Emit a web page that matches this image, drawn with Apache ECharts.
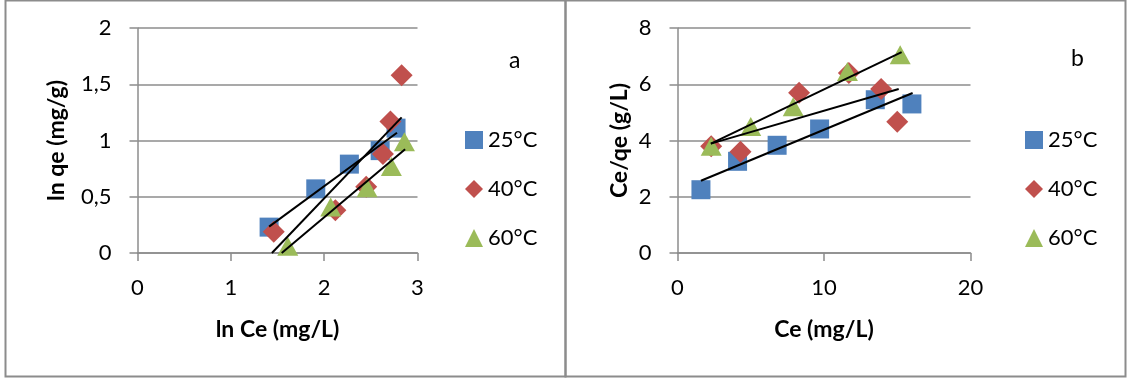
<!DOCTYPE html>
<html><head><meta charset="utf-8">
<script src="https://cdn.jsdelivr.net/npm/echarts@6/dist/echarts.min.js"></script>
<style>html,body{margin:0;padding:0;background:#fff}#c{width:1129px;height:383px}</style>
</head><body><div id="c"></div>
<script>
// ---- Data ----
const seriesNames = ['25°C', '40°C', '60°C'];
// Panel a: ln qe vs ln Ce
const a25 = [[1.41,0.23],[1.91,0.57],[2.27,0.79],[2.60,0.91],[2.77,1.11]];
const a40 = [[1.46,0.19],[2.12,0.38],[2.45,0.59],[2.63,0.88],[2.71,1.17],[2.83,1.58]];
const a60 = [[1.61,0.06],[2.07,0.41],[2.46,0.58],[2.72,0.77],[2.86,0.99]];
const aTrend25 = [[1.41,0.234],[2.78,1.069]];
const aTrend40 = [[1.44,0.0],[2.83,1.206]];
const aTrend60 = [[1.545,0.0],[2.867,0.922]];
// Panel b: Ce/qe vs Ce
const b25 = [[1.6,2.25],[4.1,3.26],[6.8,3.83],[9.7,4.41],[13.5,5.45],[16.0,5.30]];
const b40 = [[2.3,3.8],[4.3,3.6],[8.3,5.7],[11.7,6.4],[13.9,5.83],[15.0,4.67]];
const b60 = [[2.3,3.8],[5.0,4.5],[7.9,5.2],[11.6,6.45],[15.2,7.05]];
const bTrend25 = [[1.6,2.57],[16.05,5.69]];
const bTrend40 = [[2.28,3.89],[15.1,5.83]];
const bTrend60 = [[2.28,3.89],[15.3,7.14]];

const colors = ['#4F81BD', '#C0504D', '#9BBB59'];
const symbols = ['rect', 'diamond', 'triangle'];
const symbolSizes = [19, 22, [21, 19]];
const FONT = 'Lato';
const gridColor = '#8c8c8c';

function xAx(idx, min, max, interval, name) {
  return {
    gridIndex: idx, type: 'value', min, max, interval,
    name, nameLocation: 'middle', nameGap: 65,
    nameTextStyle: {fontFamily: FONT, fontWeight: 'bold', fontSize: 23, color: '#000'},
    axisLine: {show: true, onZero: false, lineStyle: {color: gridColor, width: 1.5}},
    axisTick: {show: true, length: 8, lineStyle: {color: gridColor, width: 1.5}},
    axisLabel: {fontFamily: FONT, fontSize: 22, color: '#000', margin: 24},
    splitLine: {show: false}
  };
}
function yAx(idx, min, max, interval, name, gap, fmt) {
  return {
    gridIndex: idx, type: 'value', min, max, interval,
    name, nameLocation: 'middle', nameGap: gap,
    nameTextStyle: {fontFamily: FONT, fontWeight: 'bold', fontSize: 23, color: '#000'},
    axisLine: {show: true, lineStyle: {color: gridColor, width: 1.5}},
    axisTick: {show: true, length: 8, lineStyle: {color: gridColor, width: 1.5}},
    axisLabel: {fontFamily: FONT, fontSize: 22, color: '#000', margin: 26, formatter: fmt},
    splitLine: {show: true, lineStyle: {color: gridColor, width: 1.5}}
  };
}
function scatter(name, data, i, g) {
  return {
    name, type: 'scatter', xAxisIndex: g, yAxisIndex: g, data,
    symbol: symbols[i], symbolSize: symbolSizes[i],
    itemStyle: {color: colors[i], opacity: 1}, z: 2 + i
  };
}
function trend(name, data, g) {
  return {
    name, type: 'line', xAxisIndex: g, yAxisIndex: g, data,
    symbol: 'none', lineStyle: {color: '#000', width: 2}, z: 10, clip: true,
    silent: true
  };
}
function legend(left) {
  return {
    orient: 'vertical', left, top: 124, itemWidth: 18, itemHeight: 18,
    itemGap: 27,
    textStyle: {fontFamily: FONT, fontSize: 22, color: '#000', padding: [0, 0, 0, 0]},
    itemStyle: {opacity: 1},
    data: seriesNames.map((n, i) => ({name: n, icon: symbols[i]}))
  };
}

const comma = v => String(v).replace('.', ',');

const option = {
  animation: false,
  grid: [
    {left: 137.5, top: 28, width: 280, height: 225},
    {left: 677.5, top: 28, width: 293, height: 225}
  ],
  xAxis: [xAx(0, 0, 3, 1, 'ln Ce (mg/L)'), xAx(1, 0, 20, 10, 'Ce (mg/L)')],
  yAxis: [yAx(0, 0, 2, 0.5, 'ln qe (mg/g)', 69, comma), yAx(1, 0, 8, 2, 'Ce/qe (g/L)', 46, comma)],
  legend: [legend(460), legend(1020)],
  graphic: [
    {type: 'rect', shape: {x: 5.5, y: 0.5, width: 560, height: 376}, style: {fill: 'none', stroke: gridColor, lineWidth: 2}, z: -1},
    {type: 'rect', shape: {x: 565.5, y: 0.5, width: 560, height: 376}, style: {fill: 'none', stroke: gridColor, lineWidth: 2}, z: -1},
    {type: 'text', left: 509, top: 49, style: {text: 'a', fontFamily: FONT, fontSize: 23, fill: '#000'}},
    {type: 'text', left: 1071, top: 47, style: {text: 'b', fontFamily: FONT, fontSize: 23, fill: '#000'}}
  ],
  series: [
    scatter(seriesNames[0], a25, 0, 0),
    scatter(seriesNames[1], a40, 1, 0),
    scatter(seriesNames[2], a60, 2, 0),
    trend('trend a 25', aTrend25, 0),
    trend('trend a 40', aTrend40, 0),
    trend('trend a 60', aTrend60, 0),
    scatter(seriesNames[0], b25, 0, 1),
    scatter(seriesNames[1], b40, 1, 1),
    scatter(seriesNames[2], b60, 2, 1),
    trend('trend b 25', bTrend25, 1),
    trend('trend b 40', bTrend40, 1),
    trend('trend b 60', bTrend60, 1)
  ]
};
const chart = echarts.init(document.getElementById('c'), null, {renderer: 'canvas'});
chart.setOption(option);
</script></body></html>
